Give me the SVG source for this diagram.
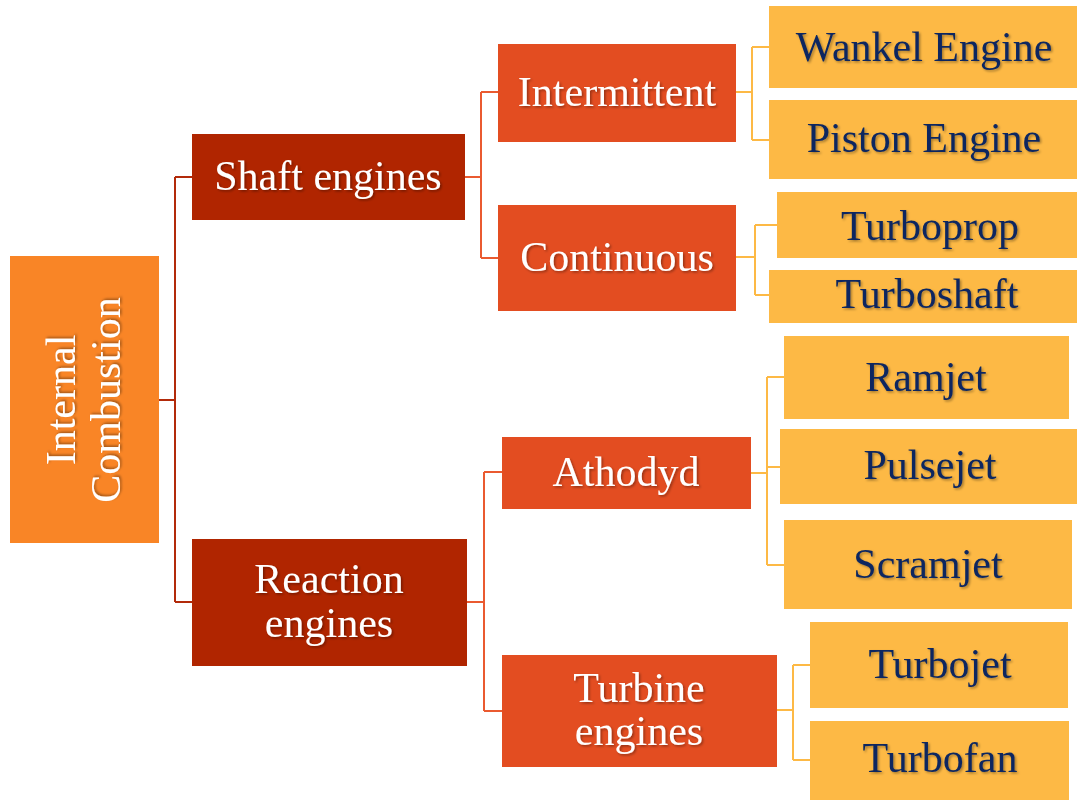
<svg xmlns="http://www.w3.org/2000/svg" width="1077" height="800" viewBox="0 0 1077 800">
  <defs>
    <filter id="shadow" x="-10%" y="-20%" width="120%" height="140%">
      <feDropShadow dx="1.5" dy="1.5" stdDeviation="1" flood-color="#000" flood-opacity="0.35"/>
    </filter>
  </defs>
  <style>
    text { font-family: "Liberation Serif", "Times New Roman", serif; font-size: 42px; text-anchor: middle; filter: url(#shadow); }
    .root { fill: #F98526; }
    .l1 { fill: #B02500; }
    .l2 { fill: #E34D21; }
    .l3 { fill: #FDB945; }
    .light { fill: #FFFFFF; }
    .dark { fill: #0E2860; }
    .c1 { stroke: #B22A0A; stroke-width: 2; fill: none; }
    .c2 { stroke: #EA5A30; stroke-width: 2; fill: none; }
    .c3 { stroke: #FDB945; stroke-width: 2; fill: none; }
  </style>

  <!-- connectors -->
  <g id="connectors">
    <path class="c1" d="M159 400 H175 M175 177 V602 M175 177 H192 M175 602 H192"/>
    <path class="c2" d="M465 177 H481 M481 92 V258 M481 92 H498 M481 258 H498"/>
    <path class="c2" d="M467 602 H484 M484 472 V711 M484 472 H502 M484 711 H502"/>
    <path class="c3" d="M736 92 H752 M752 47 V140 M752 47 H769 M752 140 H769"/>
    <path class="c3" d="M736 257 H755 M755 225 V295 M755 225 H777 M755 295 H769"/>
    <path class="c3" d="M751 473 H767 M767 377 V565 M767 377 H784 M767 467 H780 M767 565 H784"/>
    <path class="c3" d="M777 710 H793 M793 665 V760 M793 665 H810 M793 760 H810"/>
  </g>

  <g id="internal-combustion">
    <rect class="root" x="10" y="256" width="149" height="287"/>
    <text class="light" transform="translate(75 400) rotate(-90)"><tspan x="0" y="0">Internal</tspan><tspan x="0" y="45">Combustion</tspan></text>
  </g>

  <g id="shaft-engines">
    <rect class="l1" x="192" y="134" width="273" height="86"/>
    <text class="light" x="328" y="190">Shaft engines</text>
  </g>

  <g id="reaction-engines">
    <rect class="l1" x="192" y="539" width="275" height="127"/>
    <text class="light" x="329" y="593">Reaction</text>
    <text class="light" x="329" y="637">engines</text>
  </g>

  <g id="intermittent">
    <rect class="l2" x="498" y="44" width="238" height="98"/>
    <text class="light" x="617" y="106">Intermittent</text>
  </g>

  <g id="continuous">
    <rect class="l2" x="498" y="205" width="238" height="106"/>
    <text class="light" x="617" y="271">Continuous</text>
  </g>

  <g id="athodyd">
    <rect class="l2" x="502" y="437" width="249" height="72"/>
    <text class="light" x="626" y="486">Athodyd</text>
  </g>

  <g id="turbine-engines">
    <rect class="l2" x="502" y="655" width="275" height="112"/>
    <text class="light" x="639" y="702">Turbine</text>
    <text class="light" x="639" y="745">engines</text>
  </g>

  <g id="wankel-engine">
    <rect class="l3" x="769" y="6" width="308" height="82"/>
    <text class="dark" x="924" y="61">Wankel Engine</text>
  </g>

  <g id="piston-engine">
    <rect class="l3" x="769" y="100" width="308" height="79"/>
    <text class="dark" x="924" y="152">Piston Engine</text>
  </g>

  <g id="turboprop">
    <rect class="l3" x="777" y="192" width="300" height="66"/>
    <text class="dark" x="930" y="240">Turboprop</text>
  </g>

  <g id="turboshaft">
    <rect class="l3" x="769" y="270" width="308" height="53"/>
    <text class="dark" x="927" y="308">Turboshaft</text>
  </g>

  <g id="ramjet">
    <rect class="l3" x="784" y="336" width="285" height="83"/>
    <text class="dark" x="926" y="391">Ramjet</text>
  </g>

  <g id="pulsejet">
    <rect class="l3" x="780" y="429" width="297" height="75"/>
    <text class="dark" x="930" y="479">Pulsejet</text>
  </g>

  <g id="scramjet">
    <rect class="l3" x="784" y="520" width="288" height="89"/>
    <text class="dark" x="928" y="578">Scramjet</text>
  </g>

  <g id="turbojet">
    <rect class="l3" x="810" y="622" width="258" height="86"/>
    <text class="dark" x="940" y="678">Turbojet</text>
  </g>

  <g id="turbofan">
    <rect class="l3" x="810" y="721" width="259" height="79"/>
    <text class="dark" x="940" y="772">Turbofan</text>
  </g>
</svg>
